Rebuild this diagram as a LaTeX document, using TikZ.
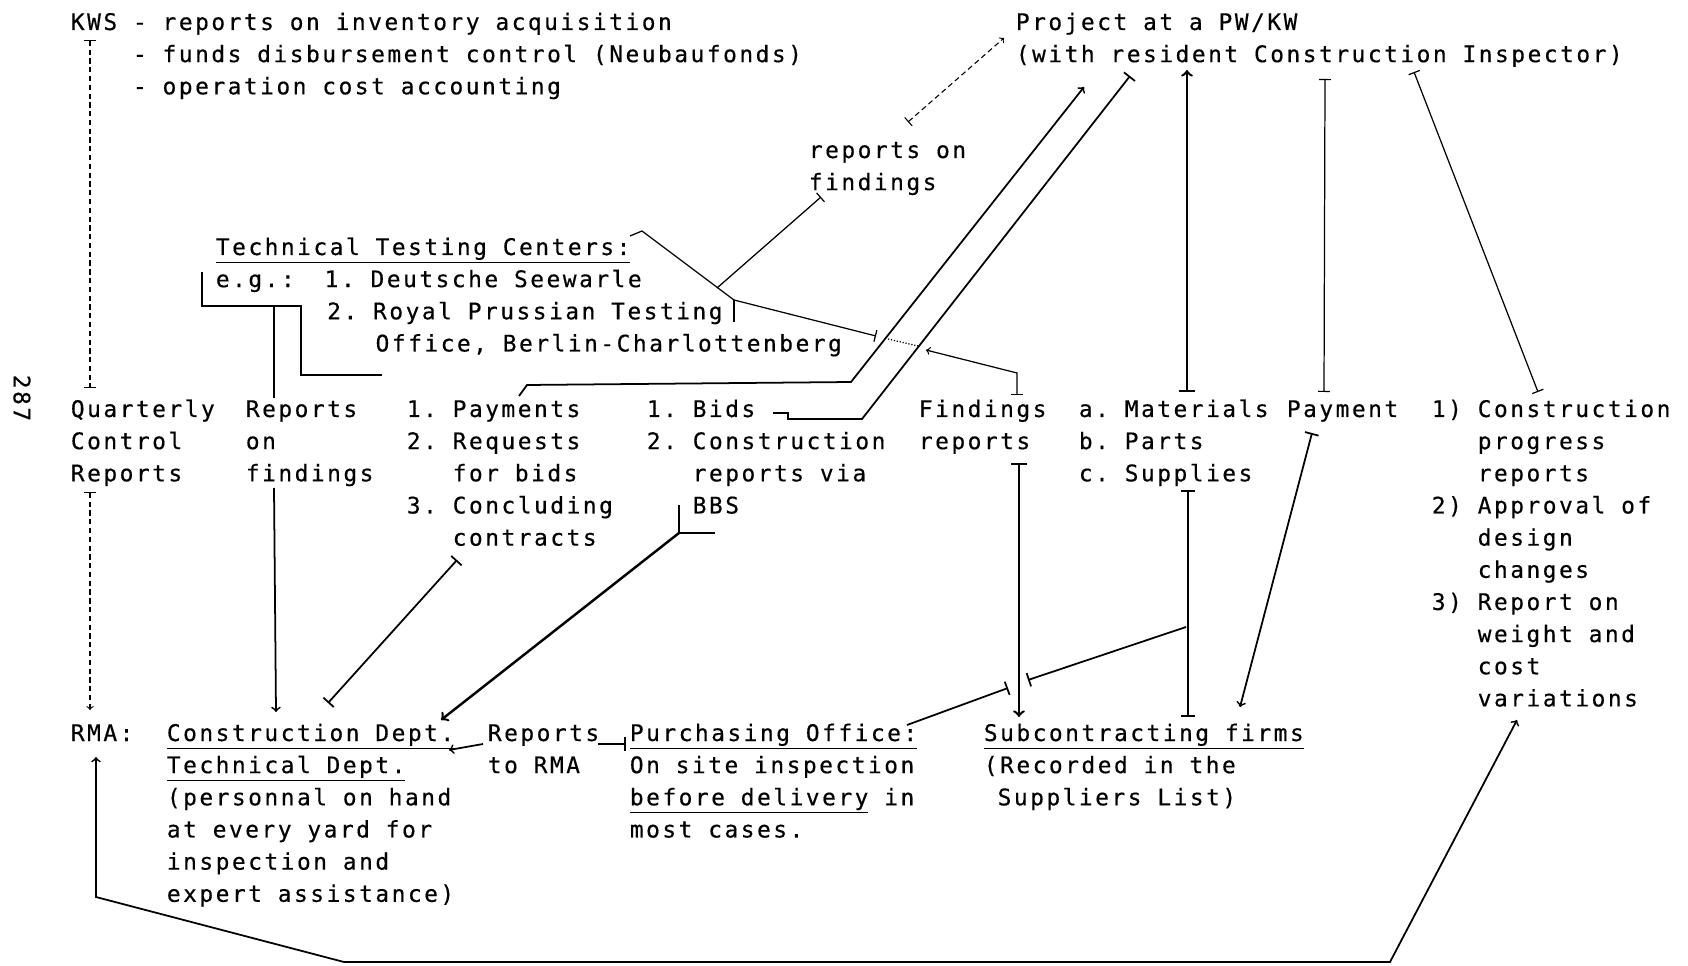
\documentclass[tikz,border=0pt]{standalone}
\usepackage{fontspec}
\usepackage{tikz}
\usetikzlibrary{
    arrows,
    positioning
}
\newfontfamily\typewr[LetterSpace=11, FakeBold=0.4]{DejaVu Sans Mono}
\newcommand\twfont{\typewr\fontsize{13}{18.3}\selectfont\frenchspacing\spaceskip=9.02pt\relax}
\newcommand\blk[1]{\begin{tabular}[t]{@{}l@{}}#1\end{tabular}}
\tikzset{
    txt/.style={anchor=base west, inner sep=0pt, font=\twfont},
    dashline/.style={line width=0.6pt, dash pattern=on 3pt off 2pt},
    heavy/.style={line width=1.4pt},
    light/.style={line width=0.7pt}
}

\begin{document}
\begin{tikzpicture}[x=0.2mm, y=-0.2mm, line width=1pt]
    \useasboundingbox (0,0) rectangle (1688,966);
    % text blocks
    \node[txt] (kws) at (70, 30) {\blk{KWS - reports on inventory acquisition\\\phantom{KWS }- funds disbursement control (Neubaufonds)\\\phantom{KWS }- operation cost accounting}};
    \node[txt] (proj) at (1015, 30) {\blk{Project at a PW/KW\\(with resident Construction Inspector)}};
    \node[txt] (onfind) at (808, 158) {\blk{reports on\\findings}};
    \node[txt] (ttc) at (215, 255) {\blk{\underline{Technical Testing Centers:}\\e.g.:\phantom{00}1. Deutsche Seewarle\\\phantom{e.g.:00}2. Royal Prussian Testing\\\phantom{e.g.:002. }Office, Berlin-Charlottenberg}};
    \node[txt, anchor=center, rotate=-90] (page) at (22, 398) {287};
    \node[txt] (qcr) at (70, 417) {\blk{Quarterly\\Control\\Reports}};
    \node[txt] (rof) at (245, 417) {\blk{Reports\\on\\findings}};
    \node[txt] (pay) at (406, 417) {\blk{1. Payments\\2. Requests\\\phantom{2. }for bids\\3. Concluding\\\phantom{3. }contracts}};
    \node[txt] (bids) at (646, 417) {\blk{1. Bids\\2. Construction\\\phantom{2. }reports via\\\phantom{2. }BBS}};
    \node[txt] (findrep) at (918, 417) {\blk{Findings\\reports}};
    \node[txt] (mat) at (1078, 417) {\blk{a. Materials\\b. Parts\\c. Supplies}};
    \node[txt] (paym) at (1286, 417) {Payment};
    \node[txt] (cpr) at (1431, 417) {\blk{1) Construction\\\phantom{1) }progress\\\phantom{1) }reports\\2) Approval of\\\phantom{2) }design\\\phantom{2) }changes\\3) Report on\\\phantom{3) }weight and\\\phantom{3) }cost\\\phantom{3) }variations}};
    \node[txt] (rma) at (70, 741) {RMA:};
    \node[txt] (cdept) at (166, 741) {\blk{\underline{Construction Dept.}\\\underline{Technical Dept.}\\(personnal on hand\\at every yard for\\inspection and\\expert assistance)}};
    \node[txt] (rtr) at (487, 741) {\blk{Reports\\to RMA}};
    \node[txt] (purch) at (629, 741) {\blk{\underline{Purchasing Office:}\\On site inspection\\\underline{before delivery} in\\most cases.}};
    \node[txt] (sub) at (983, 741) {\blk{\underline{Subcontracting firms}\\(Recorded in the\\\phantom{(}Suppliers List)}};
    % connection points
    \coordinate (kwsT) at (90, 40);
    \coordinate (qcrT) at (90, 388);
    \coordinate (qcrB) at (90, 492);
    \coordinate (rmaT) at (90, 710);
    \coordinate (rmaB) at (96, 757);
    \coordinate (lowL) at (96, 897);
    \coordinate (botL) at (344, 962);
    \coordinate (botR) at (1390, 962);
    \coordinate (varB) at (1517, 720);
    \coordinate (onfindT) at (908, 122);
    \coordinate (onfindB) at (821, 197);
    \coordinate (projA) at (1004, 38);
    \coordinate (projB) at (1084, 87);
    \coordinate (projC) at (1130, 76);
    \coordinate (projD) at (1187, 70);
    \coordinate (projE) at (1325, 79);
    \coordinate (projF) at (1414, 72);
    \coordinate (ttcE) at (630, 236);
    \coordinate (ttcH) at (642, 231);
    \coordinate (ttcJ) at (734, 300);
    \coordinate (junc) at (717, 288);
    \coordinate (crossA) at (876, 336);
    \coordinate (crossB) at (888, 339);
    \coordinate (crossC) at (918, 346);
    \coordinate (crossD) at (926, 350);
    \coordinate (findK) at (1017, 373);
    \coordinate (findT) at (1017, 395);
    \coordinate (payT) at (519, 396);
    \coordinate (payH) at (527, 385);
    \coordinate (payK) at (851, 382);
    \coordinate (bidsE) at (773, 413);
    \coordinate (bidsH) at (788, 413);
    \coordinate (bidsV) at (788, 419);
    \coordinate (bidsK) at (862, 419);
    \coordinate (matT) at (1187, 392);
    \coordinate (paymT) at (1324, 392);
    \coordinate (cprT) at (1538, 392);
    \coordinate (brA) at (202, 272);
    \coordinate (brB) at (202, 306);
    \coordinate (brC) at (301, 306);
    \coordinate (brD) at (301, 375);
    \coordinate (brE) at (382, 375);
    \coordinate (brF) at (274, 306);
    \coordinate (rofT) at (274, 398);
    \coordinate (rofB) at (274, 488);
    \coordinate (cdT) at (276, 712);
    \coordinate (payB) at (457, 560);
    \coordinate (cdS) at (328, 703);
    \coordinate (bbsT) at (679, 505);
    \coordinate (bbsC) at (679, 533);
    \coordinate (bbsR) at (715, 533);
    \coordinate (cdE) at (441, 720);
    \coordinate (rtrW) at (483, 744);
    \coordinate (cdR) at (449, 750);
    \coordinate (rtrE) at (598, 744);
    \coordinate (purW) at (626, 744);
    \coordinate (supX) at (1186, 627);
    \coordinate (crossE) at (1028, 680);
    \coordinate (crossF) at (1008, 688);
    \coordinate (purE) at (907, 725);
    \coordinate (findB) at (1019, 463);
    \coordinate (subA) at (1019, 717);
    \coordinate (supB) at (1188, 490);
    \coordinate (subB) at (1188, 717);
    \coordinate (paymB) at (1312, 433);
    \coordinate (subC) at (1240, 707);
    % connectors
    \draw[dashline]
    (kwsT) edge[|-|] (qcrT)
    (qcrB) edge[|->] (rmaT)
    (onfindT) edge[|->] (projA);
    \draw[<->] (varB) -- (botR) -- (botL) -- (lowL) -- (rmaB);
    \draw[light] (ttcE) -- (ttcH) -- (ttcJ);
    \draw[light] (ttcJ) -- ++(0, 22);
    \draw[light, -|] (junc) -- (onfindB);
    \draw[light, -|] (ttcJ) -- (crossA);
    \draw[light, densely dotted] (crossB) -- (crossC);
    \draw[light, |->] (findT) -- (findK) -- (crossD);
    \draw[->] (payT) -- (payH) -- (payK) -- (projB);
    \draw[-|] (bidsE) -- (bidsH) -- (bidsV) -- (bidsK) -- (projC);
    \draw[heavy, |->] (matT) -- (projD);
    \draw[light, |-|] (paymT) -- (projE);
    \draw[light, |-|] (cprT) -- (projF);
    \draw (brA) -- (brB) -- (brC) -- (brD) -- (brE);
    \draw (brF) -- (rofT);
    \draw[->] (rofB) -- (cdT);
    \draw[|-|] (payB) -- (cdS);
    \draw (bbsT) -- (bbsC) -- (bbsR);
    \draw[heavy, ->] (bbsC) -- (cdE);
    \draw
    (rtrW) edge[->] (cdR)
    (rtrE) edge[-|] (purW)
    (supX) edge[-|] (crossE)
    (crossF) edge[|-] (purE);
    \draw[heavy, |->] (findB) -- (subA);
    \draw[|-|] (supB) -- (subB);
    \draw[|->] (paymB) -- (subC);
\end{tikzpicture}
\end{document}
